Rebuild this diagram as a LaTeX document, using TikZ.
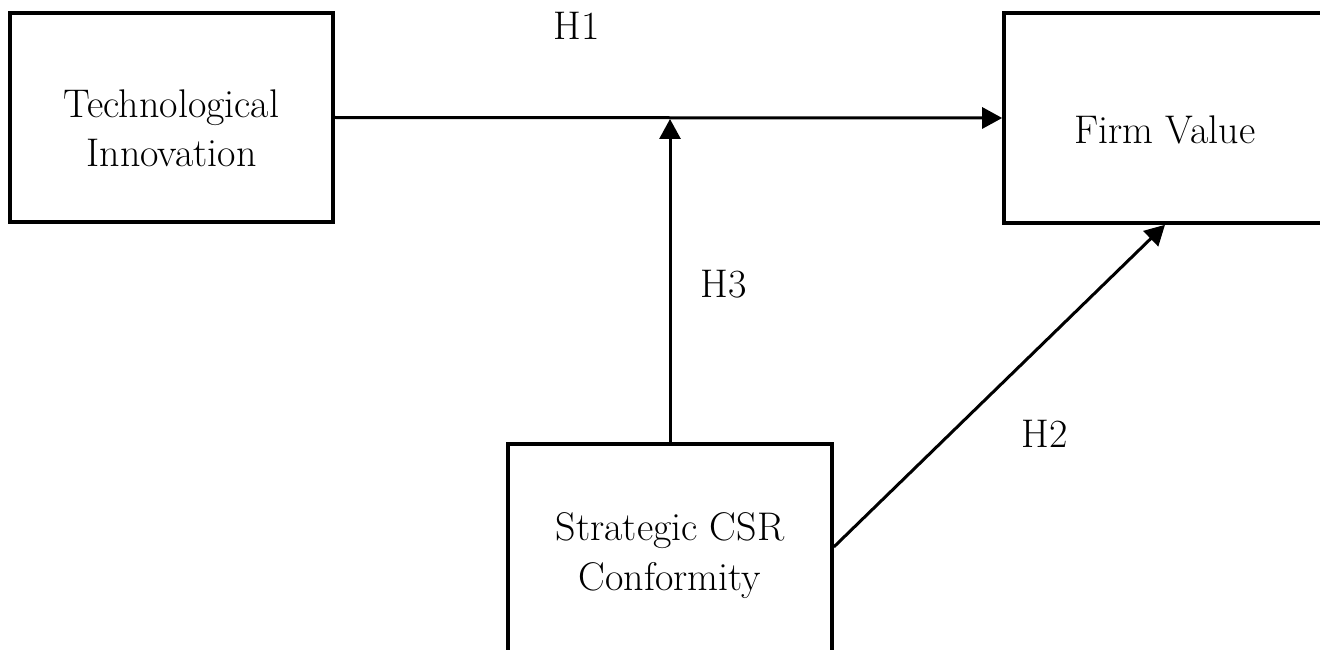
\documentclass[tikz,border=0pt]{standalone}
\usetikzlibrary{arrows.meta}
\tikzset{
  box/.style={draw=black, line width=3.6pt, minimum width=#1, inner sep=0pt},
  txt/.style={anchor=base, inner sep=0pt, font=\fontsize{40}{48}\selectfont},
  conn/.style={line width=3pt, -{Triangle[length=20pt,width=21pt]}, shorten >=0pt},
}
\begin{document}
\begin{tikzpicture}[x=1pt,y=-1pt]
\useasboundingbox (0,0) rectangle (1320,650);
\clip (0,0) rectangle (1320,650);
\fill[white] (0,0) rectangle (1320,650);
% boxes
\node[box=323pt, minimum height=209pt] (ti) at (171.5,117.5) {};
\node[box=340pt, minimum height=210pt] (fv) at (1174,118) {};
\node[box=324pt, minimum height=220pt] (csr) at (670,554) {};
% texts
\node[txt] (ti1) at (171.5,118) {Technological};
\node[txt] (ti2) at (171.5,167) {Innovation};
\node[txt] (fvt) at (1165,143) {Firm Value};
\node[txt] (csr1) at (670,540) {Strategic CSR};
\node[txt] (csr2) at (670,590) {Conformity};
\node[txt] (h1) at (577,40) {H1};
\node[txt] (h3) at (724,297) {H3};
\node[txt] (h2) at (1045,447) {H2};
% connectors
\coordinate (mid) at (ti.east -| csr.north);
\draw[conn] (ti.east) -- (fv.west);
\draw[conn] (csr.north) -- ([yshift=-1.5pt]mid);
\draw[conn] ([yshift=7pt]csr.east) -- ([xshift=-9pt]fv.south);
\end{tikzpicture}
\end{document}
